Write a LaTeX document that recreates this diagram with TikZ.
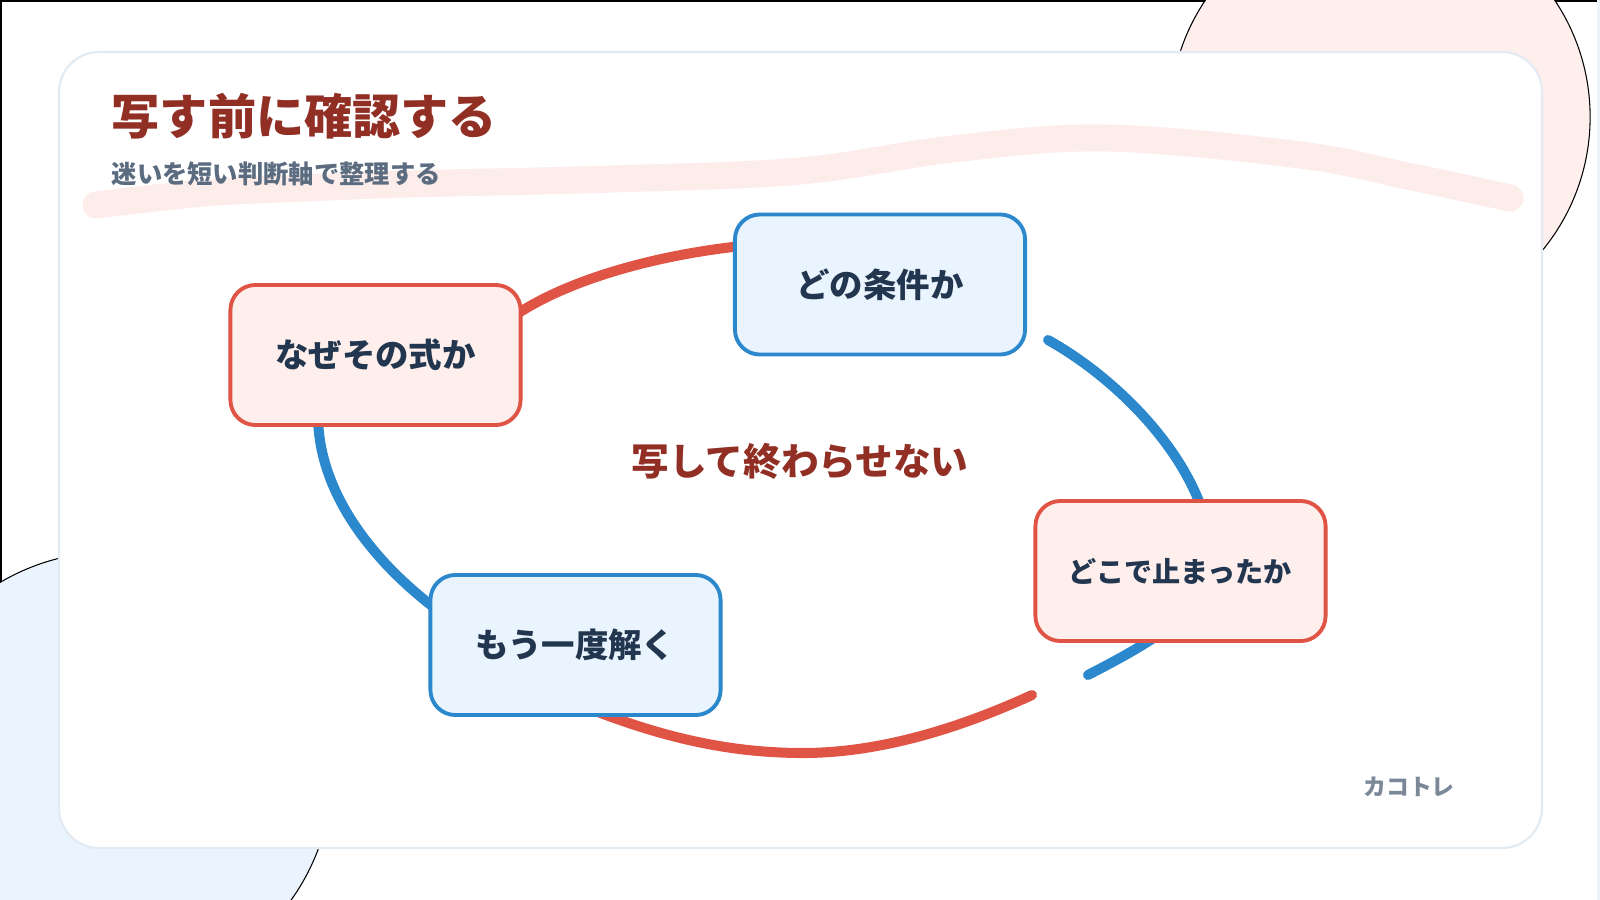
\documentclass[tikz,border=0pt]{standalone}
\usepackage{fontspec}
\setmainfont{Noto Sans CJK JP}[BoldFont={Noto Sans CJK JP Black}]

\definecolor{titlered}{HTML}{922F25}
\definecolor{slate}{HTML}{5B6B80}
\definecolor{navy}{HTML}{22364F}
\definecolor{redline}{HTML}{E05446}
\definecolor{redfill}{HTML}{FEEFEC}
\definecolor{blueline}{HTML}{2C88CC}
\definecolor{bluefill}{HTML}{EAF4FE}
\definecolor{swoosh}{HTML}{FDEDEA}
\definecolor{cardline}{HTML}{E2EAF2}
\definecolor{footgray}{HTML}{7B8898}

\begin{document}
\begin{tikzpicture}[x=0.01cm,y=-0.01cm,
  redbox/.style={draw=redline,fill=redfill,line width=1.1pt,rounded corners=0.25cm,
    minimum width=2.9cm,minimum height=1.4cm,text=navy,
    font=\bfseries\fontsize{9.5}{11}\selectfont},
  bluebox/.style={redbox,draw=blueline,fill=bluefill},
  ringarc/.style={line width=2.85pt,line cap=round}]
  \useasboundingbox (0,0) rectangle (1600,900);
  \fill[white] (0,0) rectangle (1600,900);
  \draw[black,line width=1.2pt] (0,900) -- (0,0) -- (1600,0);
  \fill[cardline!60] (1597,0) rectangle (1600,900);

  % background blobs
  \filldraw[fill=redfill,draw=black,line width=0.3pt] (1380,117) circle[radius=2.1cm];
  \filldraw[fill=bluefill,draw=black,line width=0.3pt] (112,772) circle[radius=2.2cm];

  % card
  \draw[cardline,fill=white,line width=0.6pt,rounded corners=0.4cm] (59,52) rectangle (1542,848);
  \draw[swoosh,line width=7.7pt,line cap=round] plot[smooth,tension=0.6] coordinates
    {(96,205) (204,193) (306,188) (408,184) (612,179) (800,171) (953,149) (1106,138) (1300,155) (1412,177) (1510,198)};

  \node[anchor=west,inner sep=0pt,text=titlered,font=\bfseries\fontsize{13.7}{16}\selectfont]
    (title) at (111,116) {写す前に確認する};
  \node[anchor=west,inner sep=0pt,text=slate,font=\bfseries\fontsize{7.2}{9}\selectfont]
    (subtitle) at (111,174) {迷いを短い判断軸で整理する};

  % ring ends
  \coordinate (why-r) at (490,335);
  \coordinate (cond-l) at (780,243);
  \coordinate (cond-out) at (1048,340);
  \coordinate (stop-mid) at (1212,565);
  \coordinate (stop-out) at (1088,675);
  \coordinate (stop-in) at (1032,695);
  \coordinate (low) at (803,753);
  \coordinate (again-r) at (580,705);
  \coordinate (again-l) at (440,612);
  \coordinate (why-b) at (318,415);

  \draw[ringarc,redline] (why-r) .. controls (550,278) and (680,248) .. (cond-l);
  \draw[ringarc,blueline] (cond-out) .. controls (1120,380) and (1212,470) .. (stop-mid)
    .. controls (1212,610) and (1140,648) .. (stop-out);
  \draw[ringarc,redline] (stop-in) .. controls (960,728) and (880,753) .. (low)
    .. controls (720,753) and (650,733) .. (again-r);
  \draw[ringarc,blueline] (again-l) .. controls (370,560) and (318,490) .. (why-b);

  \node[redbox] (why) at (375.5,355) {なぜその式か};
  \node[bluebox] (cond) at (880,284.5) {どの条件か};
  \node[redbox,font=\bfseries\fontsize{8}{10}\selectfont] (stop) at (1180.5,571) {どこで止まったか};
  \node[bluebox] (again) at (575.5,645) {もう一度解く};

  \node[text=titlered,font=\bfseries\fontsize{10.7}{12}\selectfont] (core) at (800,461) {写して終わらせない};
  \node[text=footgray,font=\bfseries\fontsize{6.5}{8}\selectfont] (brand) at (1409,787) {カコトレ};
\end{tikzpicture}
\end{document}
